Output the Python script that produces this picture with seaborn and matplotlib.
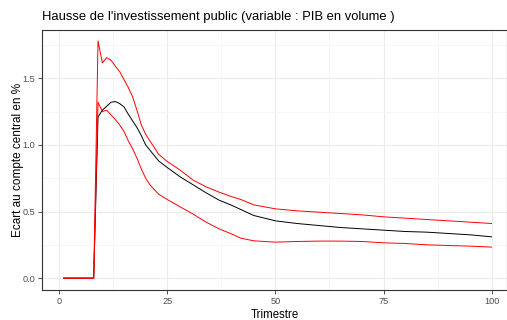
import matplotlib
matplotlib.use("Agg")
import matplotlib.pyplot as plt
import seaborn as sns
import pandas as pd
from matplotlib.ticker import MultipleLocator

trimestre = [1, 8, 9, 10, 11, 12, 13, 14, 15, 16, 17, 18, 19, 20, 21, 23, 25, 28, 31,
             34, 37, 40, 42, 45, 50, 55, 60, 65, 70, 75, 80, 85, 90, 95, 100]
central = [0, 0, 1.21, 1.26, 1.29, 1.32, 1.325, 1.31, 1.285, 1.23, 1.18, 1.13, 1.07,
           1.0, 0.96, 0.88, 0.83, 0.76, 0.70, 0.64, 0.585, 0.545, 0.515, 0.47, 0.43,
           0.41, 0.395, 0.38, 0.37, 0.36, 0.35, 0.345, 0.335, 0.325, 0.31]
haut = [0, 0, 1.78, 1.615, 1.655, 1.635, 1.59, 1.55, 1.49, 1.43, 1.36, 1.26, 1.15,
        1.08, 1.03, 0.93, 0.875, 0.81, 0.735, 0.685, 0.645, 0.61, 0.59, 0.55, 0.52,
        0.505, 0.495, 0.485, 0.475, 0.46, 0.45, 0.44, 0.43, 0.42, 0.41]
bas = [0, 0, 1.32, 1.25, 1.26, 1.225, 1.19, 1.15, 1.10, 1.03, 0.97, 0.90, 0.82,
       0.75, 0.70, 0.63, 0.59, 0.535, 0.48, 0.42, 0.37, 0.33, 0.30, 0.28, 0.27,
       0.275, 0.278, 0.278, 0.275, 0.265, 0.26, 0.25, 0.245, 0.24, 0.233]

df = pd.concat([
    pd.DataFrame({"Trimestre": trimestre, "val": central, "serie": "central"}),
    pd.DataFrame({"Trimestre": trimestre, "val": haut, "serie": "haut"}),
    pd.DataFrame({"Trimestre": trimestre, "val": bas, "serie": "bas"}),
])

sns.set_theme(style="white")
plt.rcParams["font.family"] = ["Liberation Sans", "DejaVu Sans"]

fig = plt.figure(figsize=(5.07, 3.2), dpi=100)
ax = fig.add_axes([42/507, 1-290/320, 1-42/507, 260/320])

# grid
ax.xaxis.set_major_locator(MultipleLocator(25))
ax.xaxis.set_minor_locator(MultipleLocator(12.5))
ax.yaxis.set_major_locator(MultipleLocator(0.5))
ax.yaxis.set_minor_locator(MultipleLocator(0.25))
ax.grid(True, which="major", color="#EBEBEB", linewidth=0.8)
ax.grid(True, which="minor", color="#F4F4F4", linewidth=0.5)
ax.set_axisbelow(True)

sns.lineplot(data=df, x="Trimestre", y="val", hue="serie",
             palette={"haut": "#FF0000", "bas": "#FF0000", "central": "#000000"},
             hue_order=["central", "haut", "bas"],
             linewidth=0.7, legend=False, ax=ax, estimator=None, sort=False)

ax.set_xlim(-3.95, (507 - 58.3) / 4.334)
ax.set_ylim(-0.089, 1.862)

for s in ax.spines.values():
    s.set_color("#333333")
    s.set_linewidth(0.8)

ax.tick_params(axis="both", which="major", length=3, width=0.6, color="#333333",
               labelsize=6.6, labelcolor="#4D4D4D", pad=2, left=True, bottom=True)
ax.tick_params(axis="both", which="minor", length=0)
ax.yaxis.set_major_formatter(matplotlib.ticker.FormatStrFormatter("%.1f"))

ax.set_xlabel("Trimestre", fontsize=8.3, color="black", labelpad=2)
ax.set_ylabel("Ecart au compte central en %", fontsize=8.5, color="black", labelpad=-1)
ax.set_title("Hausse de l'investissement public (variable : PIB en volume )",
             fontsize=9.4, loc="left", color="black", pad=7)

fig.savefig("out.png", dpi=100)
